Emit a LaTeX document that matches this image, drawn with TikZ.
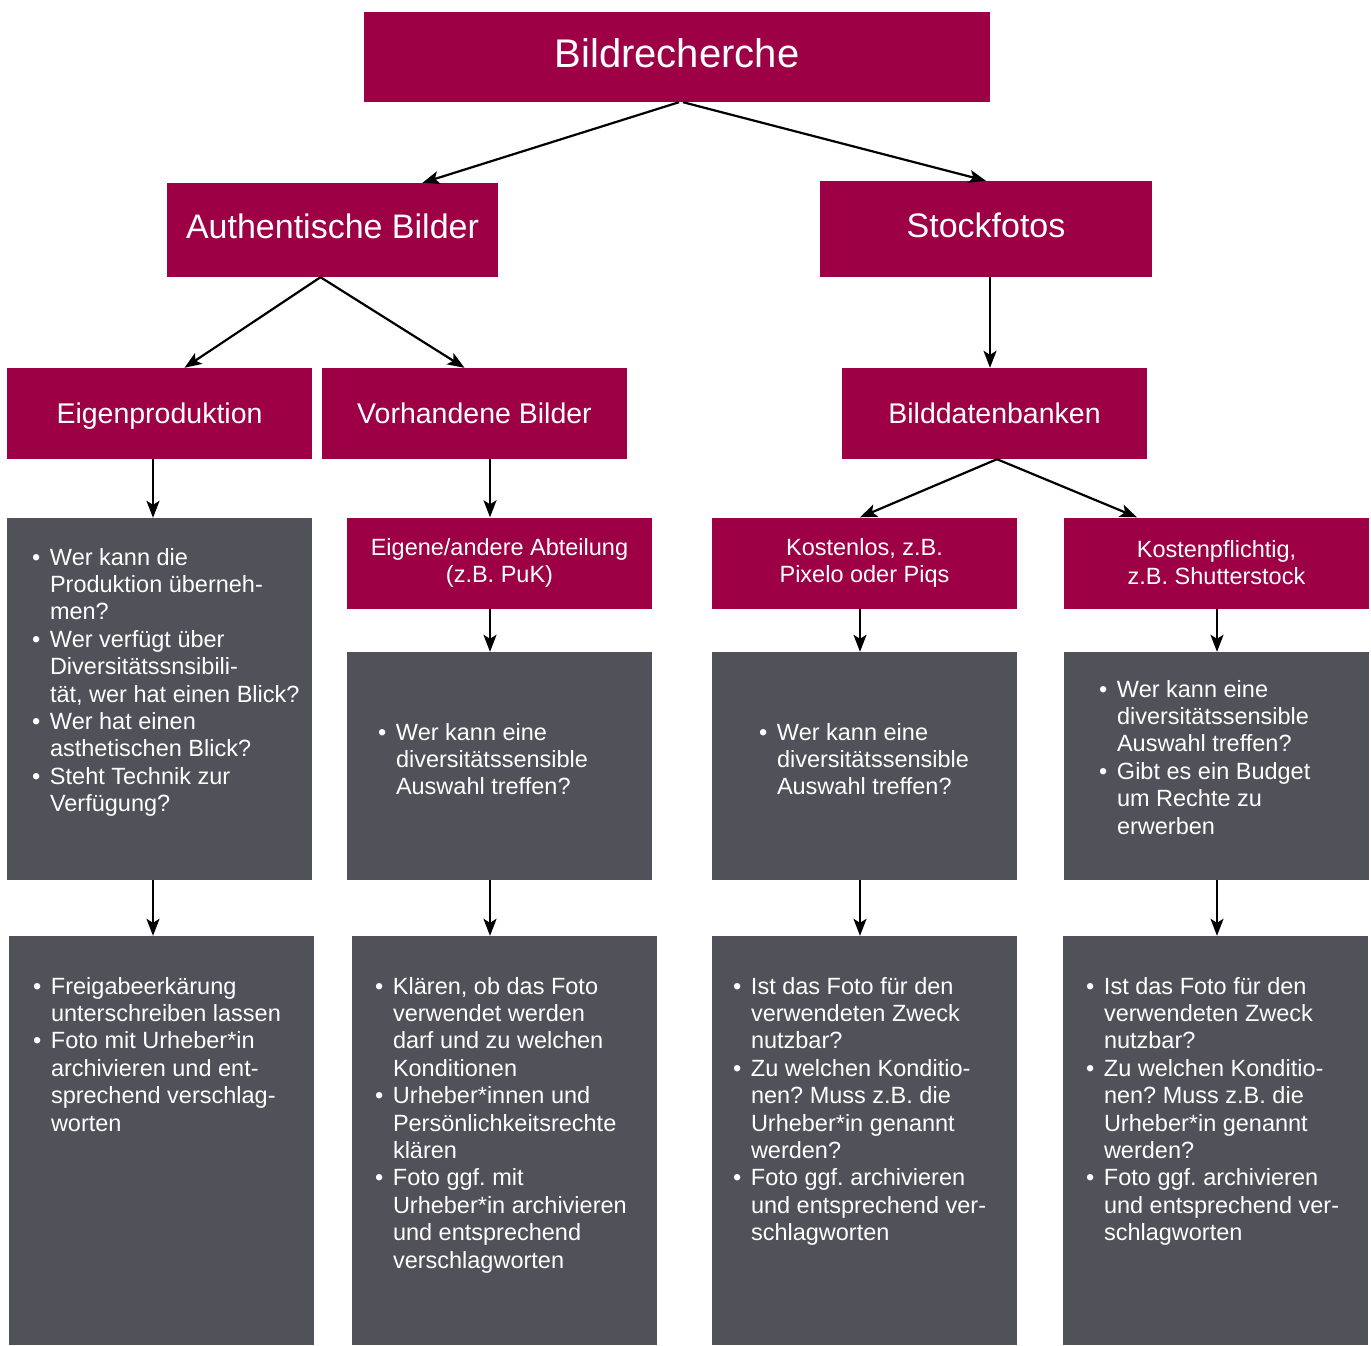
\documentclass[tikz,border=0pt]{standalone}
\usepackage{fontspec}
\setmainfont{Liberation Sans}
\usetikzlibrary{arrows.meta,calc}
\definecolor{crim}{RGB}{157,0,69}
\definecolor{slate}{RGB}{81,81,89}
\newcommand{\bu}{\makebox[18pt][l]{\textbullet}}
\newcommand{\bt}{\makebox[14pt][l]{\textbullet}}
\newcommand{\blist}[1]{\begin{tabular}{@{}l@{}l@{}}#1\end{tabular}}
\begin{document}
\frenchspacing
\begin{tikzpicture}[x=1pt,y=-1pt,
  hdr/.style={fill=crim, text=white, inner sep=0pt, align=center},
  lvone/.style={font=\fontsize{40}{46}\selectfont, text height=29pt, text depth=9pt},
  lvtwo/.style={font=\fontsize{34}{40}\selectfont, text height=25pt, text depth=8pt},
  lvthree/.style={font=\fontsize{28.5}{34}\selectfont, text height=24pt, text depth=4pt, minimum width=305pt, minimum height=91pt},
  lvfour/.style={font=\fontsize{23.5}{27}\selectfont, minimum width=305pt, minimum height=91pt},
  gbox/.style={fill=slate, inner sep=0pt, minimum width=305pt},
  lst/.style={anchor=north west, inner sep=0pt, text=white, font=\fontsize{23.5}{27.4}\selectfont},
  arr/.style={-{Stealth[length=17pt,width=13pt,inset=4pt]}, line width=2.2pt}]
\useasboundingbox (0,0) rectangle (1371,1345);
\fill[white] (0,0) rectangle (1371,1345);

% headers
\node[hdr, lvone, minimum width=626pt, minimum height=90pt] (title) at (677,57) {Bildrecherche};
\node[hdr, lvtwo, minimum width=331pt, minimum height=94pt] (auth) at (332.5,230) {Authentische Bilder};
\node[hdr, lvtwo, minimum width=332pt, minimum height=96pt] (stock) at (986,229) {Stockfotos};
\node[hdr, lvthree] (eig) at (159.5,413.5) {Eigenproduktion};
\node[hdr, lvthree] (vor) at (474.5,413.5) {Vorhandene Bilder};
\node[hdr, lvthree] (bdb) at (994.5,413.5) {Bilddatenbanken};
\node[hdr, lvfour] (abt) at (499.5,563) {Eigene/andere Abteilung\\(z.B. PuK)};
\node[hdr, lvfour] (kl) at (864.5,563) {Kostenlos, z.B.\\Pixelo oder Piqs};
\node[hdr, lvfour] (kp) at (1216.5,563) {Kostenpflichtig,\\z.B. Shutterstock};

% grey boxes
\node[gbox, minimum height=362pt] (g1) at (159.5,699) {};
\node[gbox, minimum height=228pt] (g2) at (499.5,766) {};
\node[gbox, minimum height=228pt] (g3) at (864.5,766) {};
\node[gbox, minimum height=228pt] (g4) at (1216.5,766) {};
\node[gbox, minimum height=409pt] (h1) at (161.5,1140.5) {};
\node[gbox, minimum height=409pt] (h2) at (504.5,1140.5) {};
\node[gbox, minimum height=409pt] (h3) at (864.5,1140.5) {};
\node[gbox, minimum height=409pt] (h4) at (1215.5,1140.5) {};

% texts
\node[lst] (t1) at ($(g1.north west)+(25,28)$) {\blist{%
\bu & Wer kann die\\ & Produktion überneh-\\ & men?\\
\bu & Wer verfügt über\\ & Diversitätssnsibili-\\ & tät, wer hat einen Blick?\\
\bu & Wer hat einen\\ & asthetischen Blick?\\
\bt & Steht Technik zur\\ & Verfügung?}};
\node[lst] (t2) at ($(g2.north west)+(31,69)$) {\blist{%
\bu & Wer kann eine\\ & diversitätssensible\\ & Auswahl treffen?}};
\node[lst] (t3) at ($(g3.north west)+(47,69)$) {\blist{%
\bu & Wer kann eine\\ & diversitätssensible\\ & Auswahl treffen?}};
\node[lst] (t4) at ($(g4.north west)+(35,26)$) {\blist{%
\bu & Wer kann eine\\ & diversitätssensible\\ & Auswahl treffen?\\
\bt & Gibt es ein Budget\\ & um Rechte zu\\ & erwerben}};
\node[lst] (u1) at ($(h1.north west)+(24,39)$) {\blist{%
\bu & Freigabeerkärung\\ & unterschreiben lassen\\
\bu & Foto mit Urheber*in\\ & archivieren und ent-\\ & sprechend verschlag-\\ & worten}};
\node[lst] (u2) at ($(h2.north west)+(23,39)$) {\blist{%
\bu & Klären, ob das Foto\\ & verwendet werden\\ & darf und zu welchen\\ & Konditionen\\
\bu & Urheber*innen und\\ & Persönlichkeitsrechte\\ & klären\\
\bu & Foto ggf. mit\\ & Urheber*in archivieren\\ & und entsprechend\\ & verschlagworten}};
\node[lst] (u3) at ($(h3.north west)+(21,39)$) {\blist{%
\bu & Ist das Foto für den\\ & verwendeten Zweck\\ & nutzbar?\\
\bu & Zu welchen Konditio-\\ & nen? Muss z.B. die\\ & Urheber*in genannt\\ & werden?\\
\bu & Foto ggf. archivieren\\ & und entsprechend ver-\\ & schlagworten}};
\node[lst] (u4) at ($(h4.north west)+(23,39)$) {\blist{%
\bu & Ist das Foto für den\\ & verwendeten Zweck\\ & nutzbar?\\
\bu & Zu welchen Konditio-\\ & nen? Muss z.B. die\\ & Urheber*in genannt\\ & werden?\\
\bu & Foto ggf. archivieren\\ & und entsprechend ver-\\ & schlagworten}};

% connectors
\draw[arr] ($(title.south)+(2,0)$) -- ($(auth.north)+(90,0)$);
\draw[arr] ($(title.south)+(6,0)$) -- (stock.north);
\draw[arr] ($(auth.south)+(-12,0)$) -- ($(eig.north)+(25,0)$);
\draw[arr] ($(auth.south)+(-12,0)$) -- ($(vor.north)+(-10,0)$);
\draw[arr] ($(stock.south)+(4,0)$) -- ($(bdb.north)+(-4.5,0)$);
\draw[arr] ($(bdb.south)+(2.5,0)$) -- ($(kl.north)+(-4.5,0)$);
\draw[arr] ($(bdb.south)+(2.5,0)$) -- ($(kp.north)+(-79.5,0)$);
\draw[arr] ($(eig.south)+(-6.5,0)$) -- ($(g1.north)+(-6.5,0)$);
\draw[arr] ($(vor.south)+(15.5,0)$) -- ($(abt.north)+(-9.5,0)$);
\draw[arr] ($(abt.south)+(-9.5,0)$) -- ($(g2.north)+(-9.5,0)$);
\draw[arr] ($(kl.south)+(-4.5,0)$) -- ($(g3.north)+(-4.5,0)$);
\draw[arr] ($(kp.south)+(0.5,0)$) -- ($(g4.north)+(0.5,0)$);
\draw[arr] ($(g1.south)+(-6.5,0)$) -- ($(h1.north)+(-8.5,0)$);
\draw[arr] ($(g2.south)+(-9.5,0)$) -- ($(h2.north)+(-14.5,0)$);
\draw[arr] ($(g3.south)+(-4.5,0)$) -- ($(h3.north)+(-4.5,0)$);
\draw[arr] ($(g4.south)+(0.5,0)$) -- ($(h4.north)+(1.5,0)$);
\end{tikzpicture}
\end{document}
